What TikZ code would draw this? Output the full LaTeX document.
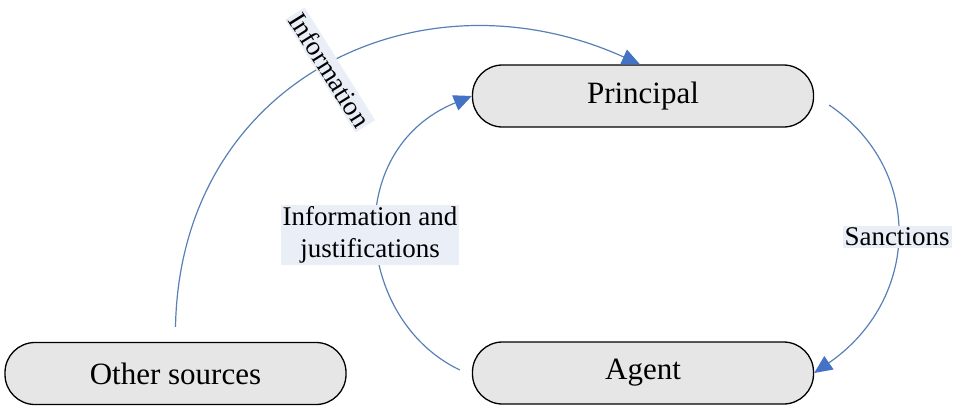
\documentclass[tikz,border=0pt]{standalone}
\usepackage{fontspec}
\setmainfont{Liberation Serif}
\usetikzlibrary{arrows.meta,calc}
\definecolor{boxfill}{RGB}{230,230,230}
\definecolor{lblfill}{RGB}{233,238,247}
\definecolor{linecol}{RGB}{88,128,182}
\definecolor{tipcol}{RGB}{68,114,196}
\tikzset{
  box/.style={draw=black, line width=1.3pt, fill=boxfill, rounded corners=30pt,
    minimum width=341pt, minimum height=62pt, inner sep=0pt,
    font=\fontsize{31}{35}\selectfont},
  lbl/.style={fill=lblfill, inner xsep=2pt, inner ysep=2pt, align=center,
    font=\fontsize{27}{32}\selectfont},
  conn/.style={draw=linecol, line width=1.2pt,
    -{Triangle[length=18pt,width=16pt,color=tipcol,fill=tipcol]}}
}
\begin{document}
\begin{tikzpicture}[x=1pt,y=-1pt]
\useasboundingbox (0,0) rectangle (954,405);
\node[box] (principal) at (643,96) {Principal};
\node[box] (agent) at (643,373) {Agent};
\node[box] (other) at (175.5,373.5) {Other sources};
\coordinate (c1s) at ($(other.north)+(0,-15)$);
\coordinate (c1e) at ($(principal.north)+(-3,0)$);
\coordinate (c2s) at ($(agent.west)+(-12,-3)$);
\coordinate (c3s) at ($(principal.east)+(15,9)$);
\draw[conn] (c1s) .. controls (180,80) and (420,-35) .. (c1e);
\draw[conn] (c2s) .. controls (355,320) and (340,150) .. (principal.west);
\draw[conn] (c3s) .. controls (925,170) and (920,300) .. (agent.east);
\node[lbl, rotate=-58] (l1) at (330,70) {Information};
\node[lbl] (l2) at (370,235) {Information and\\justifications};
\node[lbl] (l3) at (897,237) {Sanctions};
\end{tikzpicture}
\end{document}
